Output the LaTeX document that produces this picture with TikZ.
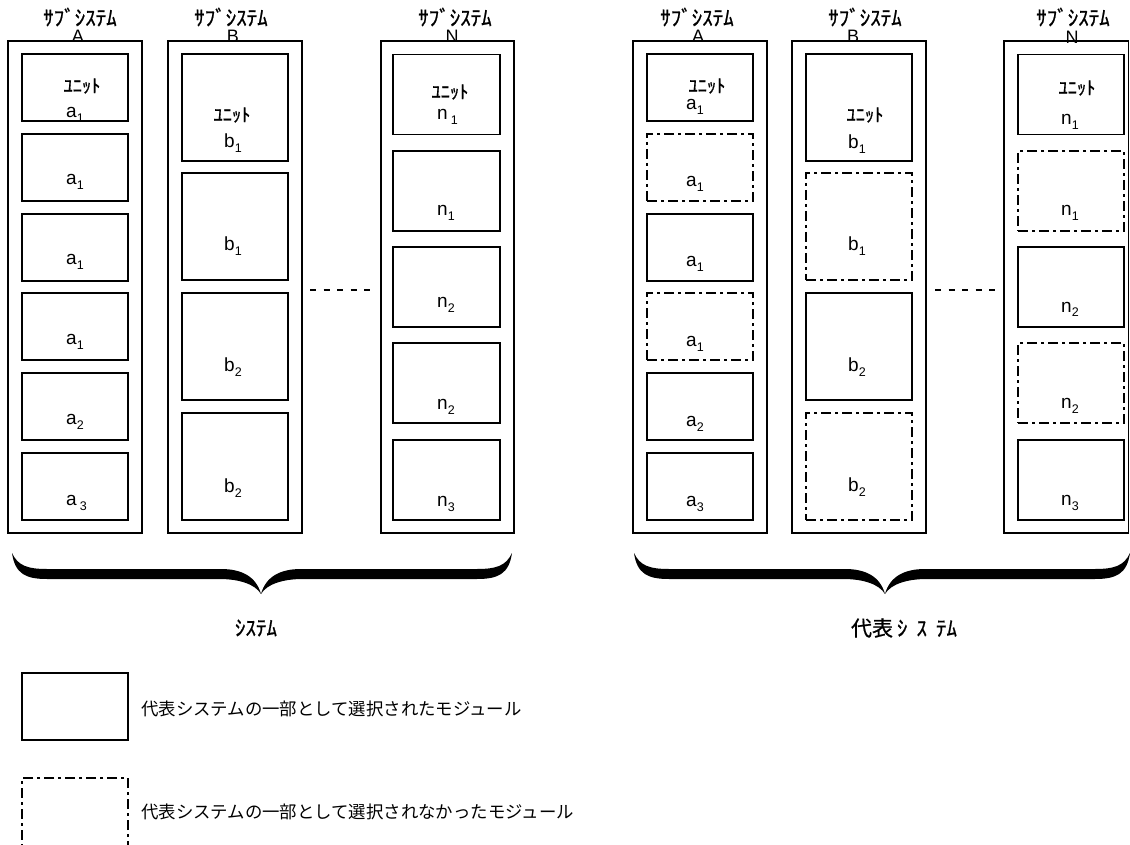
\documentclass[tikz,border=0pt]{standalone}
\usepackage{fontspec}
\setmainfont{Liberation Sans}
\newfontfamily\jp{Noto Sans CJK JP}
\newfontfamily\jpm[FakeBold=0.8]{Noto Sans CJK JP}
\newcommand\lb[2]{#1\raisebox{-5pt}{\fontsize{12.5}{12.5}\selectfont #2}}
\newcommand\bx[6]{\node[#2, minimum width=#5pt, minimum height=#6pt] (#1) at (#3,#4) {};}
\newcommand\brc[3]{%
\fill (#1,553) .. controls ({#1+3},574) and ({#1+14},579) .. ({#1+35},579) -- ({#2-42},579)
 .. controls ({#2-22},579) and ({#2-6},584) .. (#2,594)
 .. controls ({#2+6},584) and ({#2+22},579) .. ({#2+42},579) -- ({#3-35},579)
 .. controls ({#3-14},579) and ({#3-3},574) .. (#3,553)
 .. controls ({#3-6},566) and ({#3-16},569) .. ({#3-35},569) -- ({#2+40},569)
 .. controls ({#2+20},569) and ({#2+5},576) .. (#2,594)
 .. controls ({#2-5},576) and ({#2-20},569) .. ({#2-40},569) -- ({#1+35},569)
 .. controls ({#1+16},569) and ({#1+6},566) .. (#1,553) -- cycle;}
\begin{document}
\begin{tikzpicture}[x=1pt,y=-1pt,
  outerbox/.style={draw, line width=1.1pt, inner sep=0pt, outer sep=0pt},
  sel/.style={draw, line width=1.3pt, inner sep=0pt, outer sep=0pt},
  unsel/.style={draw, line width=2pt, dash pattern=on 10pt off 4pt on 3pt off 4pt, inner sep=0pt, outer sep=0pt},
  hdr/.style={font=\jpm\fontsize{21}{21}\selectfont, inner sep=0pt},
  ttl/.style={font=\fontsize{18}{18}\selectfont, inner sep=0pt},
  unitlbl/.style={font=\jpm\fontsize{18.5}{18.5}\selectfont, inner sep=0pt},
  lab/.style={anchor=base west, inner sep=0pt, font=\fontsize{19}{19}\selectfont},
  bracelbl/.style={font=\jpm\fontsize{21}{21}\selectfont, inner sep=0pt},
  legtxt/.style={anchor=west, inner sep=0pt, font=\jp\fontsize{17.4}{17.4}\selectfont},
  gapdash/.style={line width=2pt, dash pattern=on 6pt off 7.5pt}]
\useasboundingbox (0,0) rectangle (1130,845);
\clip (0,0) rectangle (1130,845);
% ---------- left system ----------
\bx{LA}{outerbox}{75}{287}{134}{492}
\bx{LB}{outerbox}{235}{287}{134}{492}
\bx{LN}{outerbox}{447.5}{287}{133}{492}
\bx{LA1}{sel}{75}{87.5}{106}{67}
\bx{LA2}{sel}{75}{167.5}{106}{67}
\bx{LA3}{sel}{75}{247.5}{106}{67}
\bx{LA4}{sel}{75}{326.5}{106}{67}
\bx{LA5}{sel}{75}{406.5}{106}{67}
\bx{LA6}{sel}{75}{486.5}{106}{67}
\bx{LB1}{sel}{235}{107.5}{106}{107}
\bx{LB2}{sel}{235}{226.5}{106}{107}
\bx{LB3}{sel}{235}{346.5}{106}{107}
\bx{LB4}{sel}{235}{466.5}{106}{107}
\bx{LN1}{sel}{446.5}{94.7}{107}{80}
\bx{LN2}{sel}{446.5}{191}{107}{80}
\bx{LN3}{sel}{446.5}{287}{107}{80}
\bx{LN4}{sel}{446.5}{383}{107}{80}
\bx{LN5}{sel}{446.5}{480}{107}{80}
\node[hdr] (hLA) at (80,17) {ｻﾌﾞｼｽﾃﾑ};
\node[ttl] (tLA) at (78,36) {A};
\node[hdr] (hLB) at (231,17) {ｻﾌﾞｼｽﾃﾑ};
\node[ttl] (tLB) at (233,36) {B};
\node[hdr] (hLN) at (455,17) {ｻﾌﾞｼｽﾃﾑ};
\node[ttl] (tLN) at (452,36) {N};
\node[unitlbl] (uLA) at (82,86) {ﾕﾆｯﾄ};
\node[unitlbl] (uLB) at (232,115) {ﾕﾆｯﾄ};
\node[unitlbl] (uLN) at (450,92) {ﾕﾆｯﾄ};
\node[lab] (lLA1) at (66,117.5) {\lb{a}{1}};
\node[lab] (lLA2) at (66,184.5) {\lb{a}{1}};
\node[lab] (lLA3) at (66,264.5) {\lb{a}{1}};
\node[lab] (lLA4) at (66,344.5) {\lb{a}{1}};
\node[lab] (lLA5) at (66,424.5) {\lb{a}{2}};
\node[lab] (lLA6) at (66,505) {\lb{a\,}{3}};
\node[lab] (lLB1) at (224,148) {\lb{b}{1}};
\node[lab] (lLB2) at (224,251) {\lb{b}{1}};
\node[lab] (lLB3) at (224,371) {\lb{b}{2}};
\node[lab] (lLB4) at (224,492) {\lb{b}{2}};
\node[lab] (lLN1) at (437,120) {\lb{n\,}{1}};
\node[lab] (lLN2) at (437,216) {\lb{n}{1}};
\node[lab] (lLN3) at (437,307) {\lb{n}{2}};
\node[lab] (lLN4) at (437,409) {\lb{n}{2}};
\node[lab] (lLN5) at (437,506) {\lb{n}{3}};
\coordinate (gL1) at (310,290);
\coordinate (gL2) at (371,290);
\draw[gapdash] (gL1) -- (gL2);
\brc{12}{261}{512}
\node[bracelbl] (sysL) at (256,628) {ｼｽﾃﾑ};
% ---------- right system ----------
\bx{RA}{outerbox}{700}{287}{134}{492}
\bx{RB}{outerbox}{859}{287}{134}{492}
\bx{RN}{outerbox}{1066.25}{287}{124.5}{492}
\bx{RA1}{sel}{700}{87.5}{106}{67}
\bx{RA2}{unsel}{700}{167.5}{106}{67}
\bx{RA3}{sel}{700}{247.5}{106}{67}
\bx{RA4}{unsel}{700}{326.5}{106}{67}
\bx{RA5}{sel}{700}{406.5}{106}{67}
\bx{RA6}{sel}{700}{486.5}{106}{67}
\bx{RB1}{sel}{859}{107.5}{106}{107}
\bx{RB2}{unsel}{859}{226.5}{106}{107}
\bx{RB3}{sel}{859}{346.5}{106}{107}
\bx{RB4}{unsel}{859}{466.5}{106}{107}
\bx{RN1}{sel}{1071}{94.7}{106}{80}
\bx{RN2}{unsel}{1071}{191}{106}{80}
\bx{RN3}{sel}{1071}{287}{106}{80}
\bx{RN4}{unsel}{1071}{383}{106}{80}
\bx{RN5}{sel}{1071}{480}{106}{80}
\node[hdr] (hRA) at (697,17) {ｻﾌﾞｼｽﾃﾑ};
\node[ttl] (tRA) at (698,36) {A};
\node[hdr] (hRB) at (865,17) {ｻﾌﾞｼｽﾃﾑ};
\node[ttl] (tRB) at (853,36) {B};
\node[hdr] (hRN) at (1073,17) {ｻﾌﾞｼｽﾃﾑ};
\node[ttl] (tRN) at (1072,37) {N};
\node[unitlbl] (uRA) at (707,86) {ﾕﾆｯﾄ};
\node[unitlbl] (uRB) at (865,115) {ﾕﾆｯﾄ};
\node[unitlbl] (uRN) at (1077,88) {ﾕﾆｯﾄ};
\node[lab] (lRA1) at (686,110) {\lb{a}{1}};
\node[lab] (lRA2) at (686,186.5) {\lb{a}{1}};
\node[lab] (lRA3) at (686,266.5) {\lb{a}{1}};
\node[lab] (lRA4) at (686,346.5) {\lb{a}{1}};
\node[lab] (lRA5) at (686,426.5) {\lb{a}{2}};
\node[lab] (lRA6) at (686,506.5) {\lb{a}{3}};
\node[lab] (lRB1) at (848,149) {\lb{b}{1}};
\node[lab] (lRB2) at (848,251) {\lb{b}{1}};
\node[lab] (lRB3) at (848,371) {\lb{b}{2}};
\node[lab] (lRB4) at (848,491) {\lb{b}{2}};
\node[lab] (lRN1) at (1061,125) {\lb{n}{1}};
\node[lab] (lRN2) at (1061,216) {\lb{n}{1}};
\node[lab] (lRN3) at (1061,312) {\lb{n}{2}};
\node[lab] (lRN4) at (1061,408) {\lb{n}{2}};
\node[lab] (lRN5) at (1061,505) {\lb{n}{3}};
\coordinate (gR1) at (935,290);
\coordinate (gR2) at (996,290);
\draw[gapdash] (gR1) -- (gR2);
\brc{634}{885}{1130}
\node[bracelbl] (sysR) at (904,628) {代表\hspace{4pt}ｼ\hspace{9pt}ｽ\hspace{9pt}ﾃﾑ};
% ---------- legend ----------
\bx{legS}{sel}{75}{706.5}{106}{67}
\bx{legU}{unsel}{75}{814}{106}{72}
\node[legtxt] (legSt) at (141,709) {代表システムの一部として選択されたモジュール};
\node[legtxt] (legUt) at (141,812) {代表システムの一部として選択されなかったモジュール};
\end{tikzpicture}
\end{document}
